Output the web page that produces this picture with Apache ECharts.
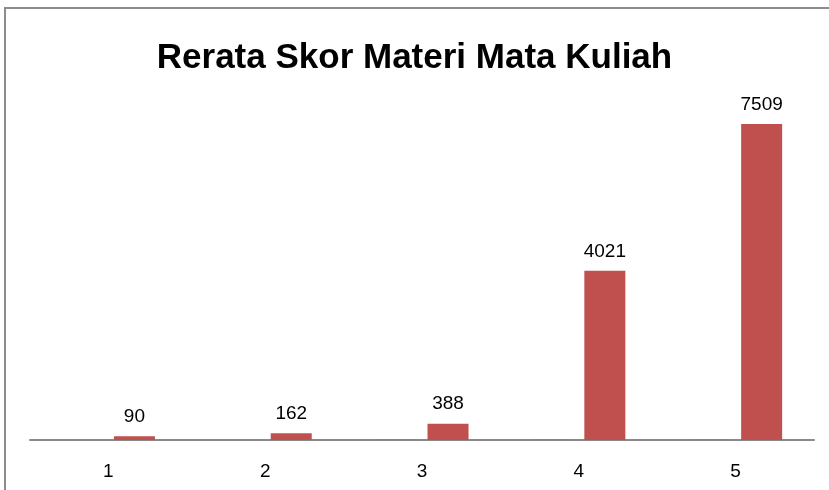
<!DOCTYPE html>
<html>
<head>
<meta charset="utf-8">
<script src="https://cdn.jsdelivr.net/npm/echarts@6/dist/echarts.min.js"></script>
<style>
  html, body { margin: 0; padding: 0; background: #fff; }
  #chart { width: 829px; height: 490px; }
</style>
</head>
<body>
<div id="chart"></div>
<script>
// data
var categories = ['1', '2', '3', '4', '5'];
var skorValues = [1, 2, 3, 4, 5];          // first series, almost flat on the axis
var jumlahValues = [90, 162, 388, 4021, 7509];

var chart = echarts.init(document.getElementById('chart'));

var option = {
    backgroundColor: '#fff',
    title: {
        text: 'Rerata Skor Materi Mata Kuliah',
        left: 'center',
        top: 36,
        textStyle: {
            fontFamily: 'Liberation Sans',
            fontWeight: 'bold',
            fontSize: 35,
            color: '#000'
        }
    },
    graphic: [{
        type: 'polyline',
        shape: { points: [[5, 490], [5, 8], [829, 8]] },
        style: { stroke: '#8c8c8c', lineWidth: 2, fill: null }
    }],
    grid: { left: 30, right: 15, top: 103.4, bottom: 50 },
    xAxis: {
        type: 'category',
        data: categories,
        axisLine: { lineStyle: { color: '#8a8a8a', width: 2 } },
        axisTick: { show: false },
        axisLabel: {
            color: '#000',
            fontFamily: 'Liberation Sans',
            fontSize: 19,
            margin: 22
        }
    },
    yAxis: {
        type: 'value',
        min: 0,
        max: 8000,
        show: false,
        splitLine: { show: false }
    },
    series: [{
        name: 'Skor',
        type: 'bar',
        data: skorValues,
        barWidth: 41,
        barGap: '27%',
        itemStyle: { color: '#4F81BD' }
    }, {
        name: 'Jumlah',
        type: 'bar',
        data: jumlahValues,
        barWidth: 41,
        itemStyle: { color: '#C0504D' },
        label: {
            show: true,
            position: 'top',
            distance: 10,
            color: '#000',
            fontFamily: 'Liberation Sans',
            fontSize: 19
        }
    }]
};

chart.setOption(option);
</script>
</body>
</html>
